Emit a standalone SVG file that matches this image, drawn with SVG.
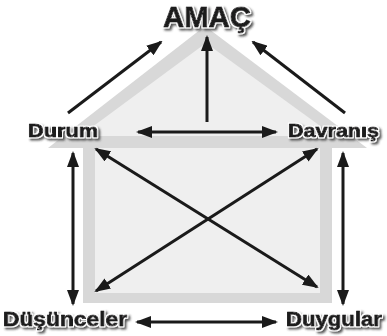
<svg xmlns="http://www.w3.org/2000/svg" width="387" height="336" viewBox="0 0 387 336">
  <defs>
    <style>
      .band { fill: #d8d8d8; }
      .fill { fill: #efefef; }
      .link { fill: none; stroke: #1a1a1a; stroke-width: 3; }
      .one { marker-end: url(#head); }
      .two { marker-start: url(#head); marker-end: url(#head); }
      .label { font-family: "Liberation Sans", Arial, sans-serif; font-weight: bold; fill: #1e1b1c;
               stroke: #1e1b1c; stroke-width: 0.9; stroke-linejoin: round;
               filter: url(#shade); }
    </style>
    <marker id="head" viewBox="0 0 16 12" markerWidth="16" markerHeight="12" refX="14" refY="6"
            orient="auto-start-reverse" markerUnits="userSpaceOnUse">
      <path d="M0,0 L16,6 L0,12 Z" fill="#1a1a1a"/>
    </marker>
    <!-- white halo plus soft grey drop shadow behind the labels -->
    <filter id="shade" x="-20%" y="-40%" width="140%" height="180%">
      <feMorphology in="SourceAlpha" operator="dilate" radius="1.3" result="grow"/>
      <feFlood flood-color="#ffffff" result="white"/>
      <feComposite in="white" in2="grow" operator="in" result="halo"/>
      <feGaussianBlur in="grow" stdDeviation="1.3" result="blur"/>
      <feOffset in="blur" dx="1.6" dy="2" result="off"/>
      <feFlood flood-color="#2e2e2e" flood-opacity="0.8"/>
      <feComposite in2="off" operator="in" result="shadow"/>
      <feMerge>
        <feMergeNode in="shadow"/>
        <feMergeNode in="halo"/>
        <feMergeNode in="SourceGraphic"/>
      </feMerge>
    </filter>
  </defs>

  <!-- house outline: roof and walls -->
  <g id="house">
    <polygon class="band" points="205,26 48,148 367,148"/>
    <polygon class="fill" points="206,43 80,136 334,136"/>
    <rect class="band" x="83" y="148" width="249" height="155"/>
    <rect class="fill" x="95" y="148" width="225" height="145"/>
  </g>

  <!-- connectors -->
  <g id="connectors">
    <path class="link one" d="M68,113 L161,42"/>
    <path class="link one" d="M345,113 L253,42"/>
    <path class="link one" d="M207,122 L207,37"/>
    <path class="link two" d="M138,132 L276,132"/>
    <path class="link two" d="M73,153 L73,304"/>
    <path class="link two" d="M343,153 L343,304"/>
    <path class="link two" d="M96,149 L317,287"/>
    <path class="link two" d="M317,149 L96,291"/>
    <path class="link two" d="M137,322 L276,322"/>
  </g>

  <g id="amac">
    <text class="label" x="207" y="27" font-size="30" text-anchor="middle" textLength="88" lengthAdjust="spacingAndGlyphs">AMAÇ</text>
  </g>
  <g id="durum">
    <text class="label" x="28" y="137" font-size="19" textLength="70" lengthAdjust="spacingAndGlyphs">Durum</text>
  </g>
  <g id="davranis">
    <text class="label" x="288" y="137" font-size="19" textLength="91" lengthAdjust="spacingAndGlyphs">Davranış</text>
  </g>
  <g id="dusunceler">
    <text class="label" x="3" y="326" font-size="20" textLength="124" lengthAdjust="spacingAndGlyphs">Düşünceler</text>
  </g>
  <g id="duygular">
    <text class="label" x="286" y="326" font-size="20" textLength="96" lengthAdjust="spacingAndGlyphs">Duygular</text>
  </g>
</svg>
